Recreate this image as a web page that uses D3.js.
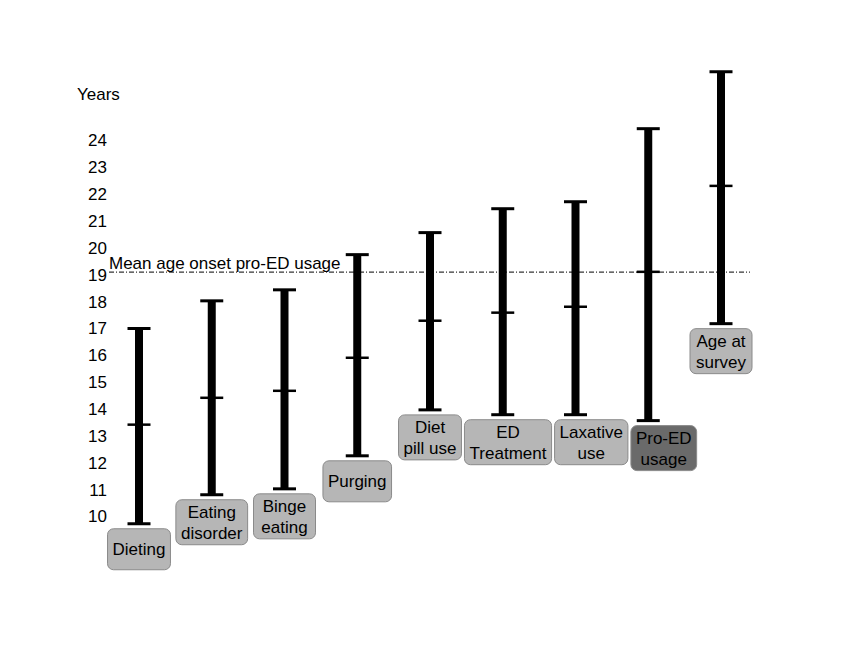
<!DOCTYPE html>
<html>
<head>
<meta charset="utf-8">
<style>
  body { margin: 0; background: #fff; font-family: "Liberation Sans", Arial, Helvetica, sans-serif; }
  svg { display: block; }
</style>
<script src="https://cdn.jsdelivr.net/npm/d3@7"></script>
</head>
<body>
<svg id="chart"></svg>
<script>
// data (years)
let categories = ["Dieting", "Eating\ndisorder", "Binge\neating", "Purging", "Diet\npill use",
                  "ED\nTreatment", "Laxative\nuse", "Pro-ED\nusage", "Age at\nsurvey"]
let lowValues  = [9.73, 10.81, 11.03, 12.26, 13.97, 13.79, 13.79, 13.57, 17.18]
let meanValues = [13.42, 14.42, 14.68, 15.91, 17.29, 17.59, 17.81, 19.11, 22.31]
let highValues = [17.0, 18.03, 18.44, 19.75, 20.57, 21.46, 21.72, 24.44, 26.56]
let yTicks = [10, 11, 12, 13, 14, 15, 16, 17, 18, 19, 20, 21, 22, 23, 24]
let meanOnset = 19.1
let highlight = "Pro-ED\nusage"

let width = 850, height = 658
let svg = d3.select("#chart").attr("width", width).attr("height", height)

let yScale = d3.scaleLinear().domain([10, 24]).range([516.5, 140.5])
let xScale = d3.scalePoint().domain(categories).range([139, 721])

// y axis: numbers only
let axisY = d3.axisLeft(yScale).tickValues(yTicks).tickSize(0).tickPadding(0)
let gy = svg.append("g").attr("transform", "translate(107,0)").call(axisY)
gy.select(".domain").remove()
gy.selectAll("text").attr("font-size", 17).attr("font-family", "Liberation Sans, Arial, sans-serif").attr("fill", "#000")

svg.append("text").attr("x", 77).attr("y", 100).attr("font-size", 17).text("Years")

// mean age onset line
svg.append("line")
  .attr("x1", 109).attr("x2", 750)
  .attr("y1", yScale(meanOnset)).attr("y2", yScale(meanOnset))
  .attr("stroke", "#000").attr("stroke-width", 1).attr("stroke-dasharray", "5,2,1,2")
svg.append("text").attr("x", 109).attr("y", yScale(meanOnset) - 3)
  .attr("font-size", 17).text("Mean age onset pro-ED usage")

// range bars
let rows = categories.map((c, i) => ({ c, lo: lowValues[i], mean: meanValues[i], hi: highValues[i] }))
let capW = 23
let g = svg.append("g")
let bar = g.selectAll("g.bar").data(rows).enter().append("g").attr("class", "bar")

bar.append("line")
  .attr("x1", d => xScale(d.c)).attr("x2", d => xScale(d.c))
  .attr("y1", d => yScale(d.hi)).attr("y2", d => yScale(d.lo))
  .attr("stroke", "#000").attr("stroke-width", 8)
;["lo", "mean", "hi"].forEach(k => {
  bar.append("line")
    .attr("x1", d => xScale(d.c) - capW / 2).attr("x2", d => xScale(d.c) + capW / 2)
    .attr("y1", d => yScale(d[k])).attr("y2", d => yScale(d[k]))
    .attr("stroke", "#000").attr("stroke-width", k == "mean" ? 2.5 : 3)
})

// label boxes under each bar, nudged right when they would overlap a previous box
let lh = 21, pad = 5, minW = 62, gap = 3
let boxes = []
bar.each(function (d) {
  let sel = d3.select(this)
  let lines = d.c.split("\n")
  let cx = xScale(d.c)
  let top = yScale(d.lo) + 5
  let boxH = lines.length > 1 ? 45 : 41
  let rect = sel.append("rect")
    .attr("rx", 6).attr("ry", 6)
    .attr("fill", d.c == highlight ? "#6a6a6a" : "#b6b6b6")
    .attr("stroke", "#8a8a8a").attr("stroke-width", 1)
  let txt = sel.append("text").attr("font-size", 17).attr("text-anchor", "middle").attr("fill", "#000")
  let firstY = top + boxH / 2 - (lines.length - 1) * lh / 2 + 6
  lines.forEach((t, i) => {
    txt.append("tspan").attr("x", cx).attr("y", firstY + i * lh).text(t)
  })
  let w = Math.max(minW, txt.node().getBBox().width + 2 * pad)
  boxes.push({ rect, txt, cx, w, top, boxH })
})
boxes.forEach((b, i) => {
  boxes.slice(0, i).forEach(p => {
    let vOverlap = Math.min(p.top + p.boxH, b.top + b.boxH) - Math.max(p.top, b.top)
    if (vOverlap > 1) {
      let minCx = p.cx + p.w / 2 + gap + b.w / 2
      if (b.cx < minCx) b.cx = minCx
    }
  })
  b.rect.attr("x", b.cx - b.w / 2).attr("y", b.top).attr("width", b.w).attr("height", b.boxH)
  b.txt.selectAll("tspan").attr("x", b.cx)
})
</script>
</body>
</html>
